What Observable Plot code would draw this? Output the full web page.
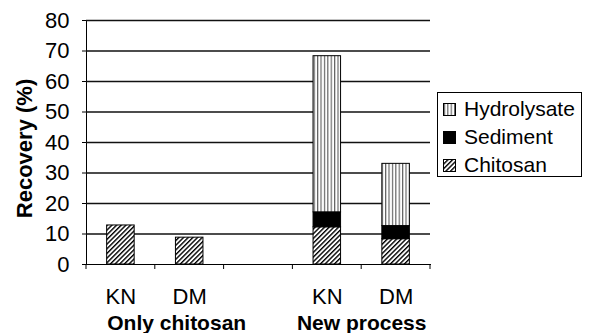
<!DOCTYPE html>
<html><head><meta charset="utf-8">
<script src="https://cdn.jsdelivr.net/npm/d3@7"></script>
<script src="https://cdn.jsdelivr.net/npm/@observablehq/plot@0.6"></script>
<style>
body{margin:0;background:#fff;}
#wrap{position:relative;width:591px;height:333px;font-family:"Liberation Sans",Arial,sans-serif;color:#000;}
#wrap > svg{display:block;}
#legend{position:absolute;left:437px;top:92px;width:143px;height:83px;border:1px solid #000;background:#fff;}
#legend .row{position:absolute;left:5px;height:24px;display:flex;align-items:center;font-size:21px;line-height:24px;}
#legend svg{margin-right:8px;}
</style></head><body><div id="wrap"></div>
<script>
const slots = ["s0","s1","s2","s3","s4"];
const sampleLabels = ["KN","DM","","KN","DM"];
const groupLabels = ["Only chitosan","New process"];
const series = ["Chitosan","Sediment","Hydrolysate"];
const chitosan = [12.8, 8.8, 0, 12.2, 8.3];
const sediment = [0, 0, 0, 4.9, 4.3];
const hydrolysate = [0, 0, 0, 51.2, 20.4];
const yTicks = [0,10,20,30,40,50,60,70,80];
const yLabel = "Recovery (%)";
const legendOrder = ["Hydrolysate","Sediment","Chitosan"];

const valuesBySeries = {Chitosan: chitosan, Sediment: sediment, Hydrolysate: hydrolysate};
const rows = [];
slots.forEach((s, i) => {
  series.forEach(k => {
    const v = valuesBySeries[k][i];
    if (v > 0) rows.push({slot: s, series: k, value: v});
  });
});
const fills = {Chitosan: "url(#hatch)", Sediment: "#000", Hydrolysate: "url(#vlines)"};

const font = "Liberation Sans, Arial, sans-serif";
const plot = Plot.plot({
  width: 591, height: 333,
  marginLeft: 86, marginRight: 161, marginTop: 20, marginBottom: 69,
  style: {fontFamily: font, fontSize: "22px", color: "#000", background: "#fff", overflow: "visible"},
  x: {domain: slots, paddingInner: 0.6, paddingOuter: 0.3, round: false, tickSize: 0, tickPadding: 24,
      tickFormat: s => sampleLabels[slots.indexOf(s)], label: null, line: true},
  y: {domain: [0, 80], ticks: yTicks, tickSize: 4, tickPadding: 13, tickFormat: d => String(d), label: null, line: true},
  color: {domain: series, range: series.map(k => fills[k])},
  marks: [
    Plot.ruleY(yTicks.filter(d => d > 0), {stroke: "#111", strokeWidth: 1.4}),
    Plot.ruleY([0], {stroke: "#000", strokeWidth: 1}),
    Plot.barY(rows, {x: "slot", y: "value", fill: "series", stroke: "#000", strokeWidth: 1}),
    Plot.text([groupLabels[0]], {x: () => "s1", y: () => 0, text: d => d, dx: -13, dy: 59, fontWeight: "bold", fontSize: 21, lineAnchor: "middle", fill: "#000"}),
    Plot.text([groupLabels[1]], {x: () => "s4", y: () => 0, text: d => d, dx: -34.4, dy: 59, fontWeight: "bold", fontSize: 21, lineAnchor: "middle", fill: "#000"}),
    Plot.text([yLabel], {frameAnchor: "left", textAnchor: "middle", rotate: -90, dx: -62, dy: 6, text: d => d, fontWeight: "bold", fontSize: 22, fill: "#000"})
  ]
});

const svg = d3.select(plot);
const defs = svg.insert("defs", ":first-child");
const h = defs.append("pattern").attr("id", "hatch").attr("patternUnits", "userSpaceOnUse")
  .attr("width", 3.3).attr("height", 3.3).attr("patternTransform", "rotate(45)");
h.append("rect").attr("x", 0).attr("y", 0).attr("width", 3.3).attr("height", 3.3).attr("fill", "#fff");
h.append("line").attr("x1", 0.7).attr("y1", -1).attr("x2", 0.7).attr("y2", 5).attr("stroke", "#000").attr("stroke-width", 1.4);
const v = defs.append("pattern").attr("id", "vlines").attr("patternUnits", "userSpaceOnUse")
  .attr("width", 3.4).attr("height", 4);
v.append("rect").attr("width", 3.4).attr("height", 4).attr("fill", "#fff");
v.append("line").attr("x1", 1.5).attr("y1", 0).attr("x2", 1.5).attr("y2", 4).attr("stroke", "#333").attr("stroke-width", 0.9);

svg.selectAll("g[aria-label='x-axis'] text, g[aria-label='y-axis'] text").style("font-size", "22px").attr("fill", "#000");

// slot boundary ticks on the x axis, positioned with Plot's own scales
const xs = plot.scale("x");
const ys = plot.scale("y");
const y0 = ys.apply(0);
const bounds = slots.map(s => xs.apply(s) + xs.bandwidth / 2 - xs.step / 2);
bounds.push(xs.apply(slots[slots.length - 1]) + xs.bandwidth / 2 + xs.step / 2);
const tg = svg.append("g");
bounds.forEach(b => {
  tg.append("line").attr("x1", b).attr("x2", b).attr("y1", y0).attr("y2", y0 + 5).attr("stroke", "#000").attr("stroke-width", 1);
});

const wrap = document.getElementById("wrap");
wrap.appendChild(plot);

const legend = d3.select(wrap).append("div").attr("id", "legend");
legendOrder.forEach((k, i) => {
  const row = legend.append("div").attr("class", "row").style("top", (4 + i * 28) + "px");
  const sw = row.append("svg").attr("width", 13).attr("height", 13);
  sw.append("rect").attr("x", 0.5).attr("y", 0.5).attr("width", 12).attr("height", 12)
    .attr("fill", fills[k]).attr("stroke", "#000").attr("stroke-width", 1);
  row.append("span").text(k);
});
</script>
</body></html>
